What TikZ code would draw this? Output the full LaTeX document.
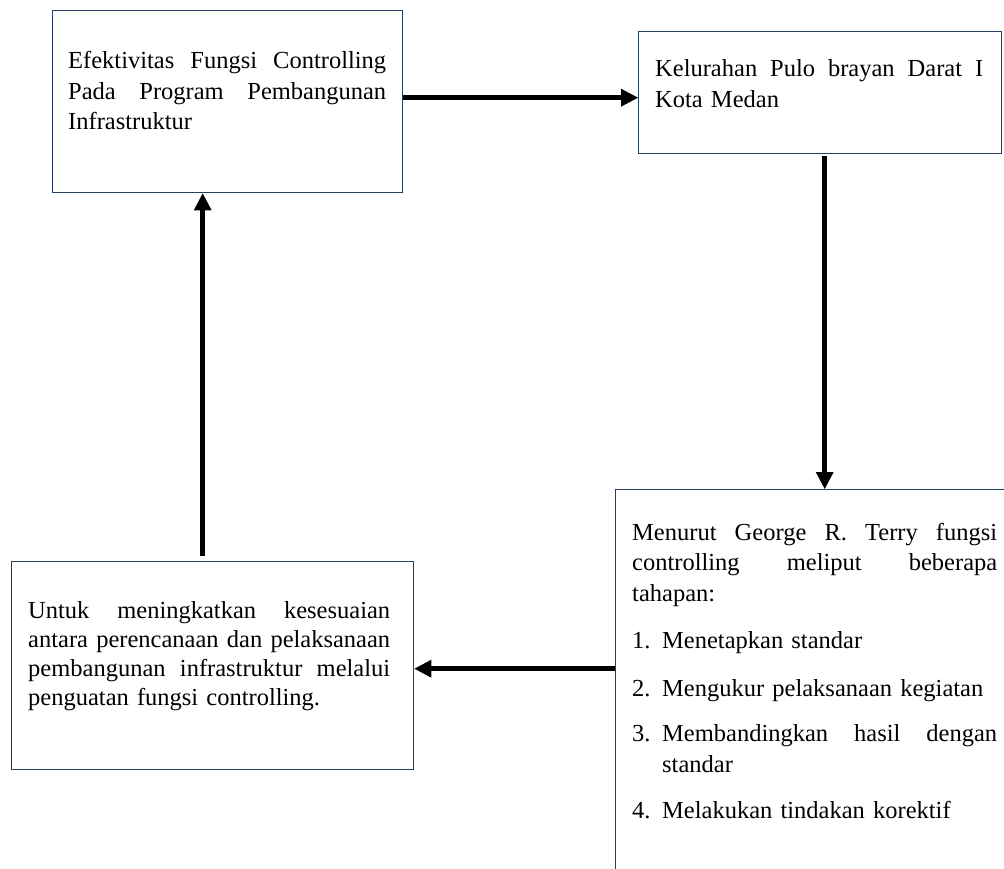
\documentclass[tikz,border=0pt]{standalone}
\usepackage{fontspec}
\setmainfont{Liberation Serif}
\usetikzlibrary{arrows.meta}
\definecolor{boxblue}{RGB}{40,62,100}
\newcommand{\jline}[2]{\leavevmode\hbox to #1{#2}}
\begin{document}
\begin{tikzpicture}[x=1pt,y=-1pt,
  box/.style={draw=boxblue, line width=1.4pt, rectangle, inner sep=0pt, anchor=north west},
  txt/.style={inner sep=0pt, anchor=base west, align=left, font=\fontsize{24.5}{30.5}\selectfont},
  arr/.style={line width=5pt, -{Triangle[width=18pt,length=17pt,line width=0pt]}}]
\useasboundingbox (0,0) rectangle (1004,869);
\clip (0,0) rectangle (1004,869);
% boxes
\node[box, minimum width=350pt, minimum height=182pt] (b1) at (52,10) {};
\node[box, minimum width=363pt, minimum height=122pt] (b2) at (638,31) {};
\node[box, minimum width=400pt, minimum height=400pt] (b3) at (615,489) {};
\node[box, minimum width=402pt, minimum height=208pt] (b4) at (11,561) {};
% texts
\node[txt, text width=318pt] (t1) at (68,69) {%
\jline{318pt}{Efektivitas\hfill Fungsi\hfill Controlling}\\
\jline{318pt}{Pada\hfill Program\hfill Pembangunan}\\
Infrastruktur};
\node[txt, text width=328pt] (t2) at (655,77) {%
\jline{328pt}{Kelurahan\hfill Pulo\hfill brayan\hfill Darat\hfill I}\\
Kota Medan};
\node[txt, text width=365pt] (t3) at (632,540) {%
\jline{365pt}{Menurut\hfill George\hfill R.\hfill Terry\hfill fungsi}\\
\jline{365pt}{controlling\hfill meliput\hfill beberapa}\\
tahapan:\\[17pt]
\makebox[30pt][l]{1.}Menetapkan standar\\[17pt]
\makebox[30pt][l]{2.}Mengukur pelaksanaan kegiatan\\[15pt]
\makebox[30pt][l]{3.}\jline{335pt}{Membandingkan\hfill hasil\hfill dengan}\\
\hspace*{30pt}standar\\[16pt]
\makebox[30pt][l]{4.}Melakukan tindakan korektif};
\node[txt, text width=362pt, font=\fontsize{24.5}{29}\selectfont] (t4) at (28,618) {%
\jline{362pt}{Untuk\hfill meningkatkan\hfill kesesuaian}\\
\jline{362pt}{antara\hfill perencanaan\hfill dan\hfill pelaksanaan}\\
\jline{362pt}{pembangunan\hfill infrastruktur\hfill melalui}\\
penguatan fungsi controlling.};
% connectors
\draw[arr] ([yshift=4pt]b1.east) -- ([yshift=-5pt]b2.west);
\draw[arr] ([xshift=4.5pt,yshift=-2pt]b2.south) -- ([xshift=4.5pt]b2.south |- b3.north);
\coordinate (a3) at ([yshift=-3pt]b4.east);
\draw[arr] (b3.west |- a3) -- (a3);
\draw[arr] ([xshift=-10pt,yshift=5pt]b4.north) -- ([xshift=-10pt]b4.north |- b1.south);
\end{tikzpicture}
\end{document}
